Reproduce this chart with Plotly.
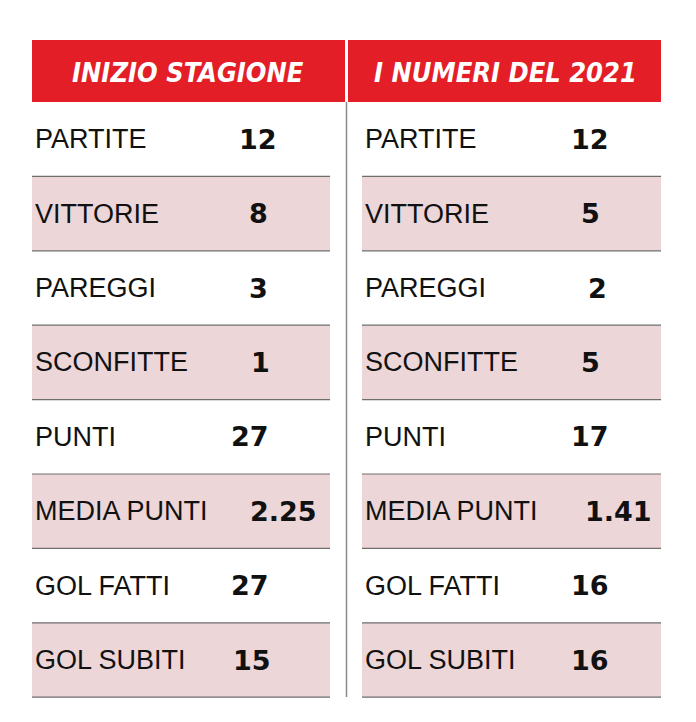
import plotly.graph_objects as go

headers = ["INIZIO STAGIONE", "I NUMERI DEL 2021"]
labels = ["PARTITE", "VITTORIE", "PAREGGI", "SCONFITTE", "PUNTI",
          "MEDIA PUNTI", "GOL FATTI", "GOL SUBITI"]
inizio = ["12", "8", "3", "1", "27", "2.25", "27", "15"]
numeri_2021 = ["12", "5", "2", "5", "17", "1.41", "16", "16"]

# layout in pixel units (page has 8px body margin, so ranges are shifted)
W, H = 696, 722
TOP, ROW_H = 102, 74.4
cols = [(32, 330), (362, 661)]
val_x = [[258, 258, 258, 260, 250, 283, 250, 252],
         [590, 590, 597, 590, 590, 618, 590, 590]]
RED = "#e41e26"
PINK = "#ecd6d8"

fig = go.Figure()
shapes = []
ann = []

# header bars
shapes.append(dict(type="rect", x0=32, x1=345, y0=40, y1=102, fillcolor=RED, line_width=0, layer="below"))
shapes.append(dict(type="rect", x0=348, x1=661, y0=40, y1=102, fillcolor=RED, line_width=0, layer="below"))
for i, h in enumerate(headers):
    ann.append(dict(x=[188, 505][i], y=72, text=f"<b><i>{h}</i></b>", showarrow=False,
                    font=dict(family="DejaVu Sans Condensed, DejaVu Sans", size=27, color="white")))

# divider
shapes.append(dict(type="line", x0=346.5, x1=346.5, y0=102, y1=697, line=dict(color="#8a8a8a", width=1.5)))

for c, (x0, x1) in enumerate(cols):
    vals = [inizio, numeri_2021][c]
    for i, lab in enumerate(labels):
        y0 = TOP + ROW_H * i
        y1 = y0 + ROW_H
        if i % 2 == 1:
            shapes.append(dict(type="rect", x0=x0, x1=x1, y0=y0, y1=y1, fillcolor=PINK, line_width=0, layer="below"))
        shapes.append(dict(type="line", x0=x0, x1=x1, y0=y1, y1=y1, line=dict(color="#6e6e6e", width=1.2)))
        ym = (y0 + y1) / 2
        ann.append(dict(x=x0 + 1, y=ym, text=lab, showarrow=False, xanchor="left",
                        font=dict(family="Liberation Sans", size=27, color="#111")))
        ann.append(dict(x=val_x[c][i], y=ym, text=f"<b>{vals[i]}</b>", showarrow=False,
                        font=dict(family="DejaVu Sans", size=27, color="#111")))

fig.add_trace(go.Scatter(x=[8, W], y=[8, H], mode="markers", marker=dict(opacity=0), hoverinfo="skip"))
fig.update_layout(
    width=W, height=H, margin=dict(l=0, r=0, t=0, b=0),
    plot_bgcolor="white", paper_bgcolor="white", showlegend=False,
    xaxis=dict(range=[8, W + 8], visible=False, fixedrange=True),
    yaxis=dict(range=[H + 8, 8], visible=False, fixedrange=True),
    shapes=shapes, annotations=ann,
)
fig.write_html("out.html")
